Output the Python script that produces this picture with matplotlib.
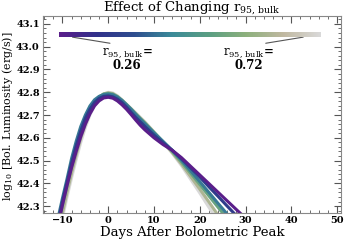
import matplotlib
matplotlib.use('Agg')
import matplotlib.pyplot as plt
import numpy as np
from matplotlib.colors import LinearSegmentedColormap, Normalize
from matplotlib.cm import ScalarMappable
from matplotlib.ticker import MultipleLocator

plt.rcParams['font.family'] = 'DejaVu Serif'
plt.rcParams['mathtext.fontset'] = 'dejavuserif'

# days after bolometric peak
days = [-12, -11, -10, -9, -8, -7, -6, -5, -4, -3, -2, -1, 0, 1, 2, 3, 4, 5, 6, 7, 8,
        10, 12, 14, 16, 18, 20, 22, 24, 26, 28, 30]

r95_bulk = [0.26, 0.35, 0.44, 0.54, 0.63, 0.72]

lum_026 = [42.12, 42.21, 42.305, 42.39, 42.47, 42.54, 42.605, 42.66, 42.705, 42.74, 42.762, 42.775, 42.778,
           42.774, 42.762, 42.745, 42.725, 42.702, 42.678, 42.655, 42.635,
           42.600, 42.570, 42.545, 42.513, 42.475, 42.437, 42.399, 42.361, 42.323, 42.285, 42.247]
lum_035 = [42.13, 42.225, 42.32, 42.405, 42.49, 42.565, 42.63, 42.685, 42.725, 42.755, 42.773, 42.782, 42.784,
           42.78, 42.77, 42.755, 42.735, 42.712, 42.69, 42.67, 42.65,
           42.612, 42.578, 42.545, 42.508, 42.468, 42.428, 42.385, 42.343, 42.30, 42.258, 42.215]
lum_044 = [42.15, 42.245, 42.335, 42.42, 42.51, 42.585, 42.65, 42.70, 42.74, 42.767, 42.782, 42.79, 42.792,
           42.789, 42.779, 42.764, 42.745, 42.725, 42.703, 42.682, 42.662,
           42.622, 42.584, 42.545, 42.502, 42.455, 42.408, 42.36, 42.312, 42.265, 42.218, 42.17]
lum_054 = [42.12, 42.215, 42.305, 42.39, 42.475, 42.55, 42.62, 42.678, 42.722, 42.757, 42.78, 42.792, 42.795,
           42.792, 42.781, 42.765, 42.746, 42.726, 42.705, 42.685, 42.665,
           42.623, 42.582, 42.54, 42.494, 42.445, 42.395, 42.345, 42.295, 42.245, 42.195, 42.145]
lum_063 = [42.09, 42.18, 42.27, 42.36, 42.445, 42.525, 42.598, 42.66, 42.71, 42.748, 42.776, 42.793, 42.798,
           42.794, 42.782, 42.765, 42.746, 42.727, 42.707, 42.687, 42.668,
           42.625, 42.58, 42.535, 42.485, 42.43, 42.375, 42.318, 42.26, 42.20, 42.14, 42.08]
lum_072 = [42.07, 42.16, 42.25, 42.34, 42.425, 42.505, 42.58, 42.645, 42.70, 42.742, 42.773, 42.792, 42.80,
           42.797, 42.785, 42.767, 42.748, 42.729, 42.71, 42.69, 42.67,
           42.626, 42.58, 42.532, 42.478, 42.418, 42.358, 42.295, 42.232, 42.17, 42.11, 42.05]

curves = [lum_026, lum_035, lum_044, lum_054, lum_063, lum_072]

cmap = LinearSegmentedColormap.from_list('rbulk', ['#5a1e8a', '#30308a', '#2e4d8e', '#3a8a98',
                                                   '#5a9e82', '#8cb07c', '#c0b8a0', '#d9d9d9'])
norm = Normalize(vmin=min(r95_bulk), vmax=max(r95_bulk))

fig = plt.figure(figsize=(3.46, 2.42), dpi=100)
ax = fig.add_axes([0.125, 0.12, 0.861, 0.814])

for r, lum in reversed(list(zip(r95_bulk, curves))):
    ax.plot(days, lum, color=cmap(norm(r)), lw=2.2)

ax.set_xlim(-14.2, 50.9)
ax.set_ylim(42.27, 43.135)
ax.xaxis.set_major_locator(MultipleLocator(10))
ax.xaxis.set_minor_locator(MultipleLocator(2))
ax.yaxis.set_major_locator(MultipleLocator(0.1))
ax.yaxis.set_minor_locator(MultipleLocator(0.02))
ax.tick_params(which='both', direction='in', top=True, right=True, labelsize=7,
               color='#555555', pad=2.5)
ax.tick_params(which='major', length=5)
ax.tick_params(which='minor', length=2.5)
for lab in ax.get_xticklabels() + ax.get_yticklabels():
    lab.set_fontweight('bold')
for s in ax.spines.values():
    s.set_color('#888888')

ax.set_xlabel('Days After Bolometric Peak', fontsize=9.5)
ax.set_ylabel(r'log$_{10}$ [Bol. Luminosity (erg/s)]', fontsize=8)
ax.xaxis.set_label_coords(0.5, -0.068)
ax.yaxis.set_label_coords(-0.094, 0.49)
ax.set_title(r'Effect of Changing r$_{95,\,\mathrm{bulk}}$', fontsize=9.5, pad=2)

# colorbar strip inside the axes
cax = ax.inset_axes([-10.7, 43.042, 57.2, 0.021], transform=ax.transData)
cb = fig.colorbar(ScalarMappable(norm=norm, cmap=cmap), cax=cax, orientation='horizontal')
cb.set_ticks([])
cb.outline.set_visible(False)

lab = r'$\mathrm{r}_{95,\,\mathrm{bulk}}$='
ax.annotate(lab + '\n%.2f' % r95_bulk[0], xy=(-7.8, 43.042), xytext=(4.1, 43.003),
            ha='center', va='top', fontsize=8.5, fontweight='bold', linespacing=0.95,
            arrowprops=dict(arrowstyle='-', color='#555555', lw=0.8, shrinkA=0, shrinkB=0,
                            relpos=(0.5, 1.0)))
ax.annotate(lab + '\n%.2f' % r95_bulk[-1], xy=(42.6, 43.042), xytext=(30.7, 43.003),
            ha='center', va='top', fontsize=8.5, fontweight='bold', linespacing=0.95,
            arrowprops=dict(arrowstyle='-', color='#555555', lw=0.8, shrinkA=0, shrinkB=0,
                            relpos=(0.5, 1.0)))

fig.savefig('out.png', dpi=100)
